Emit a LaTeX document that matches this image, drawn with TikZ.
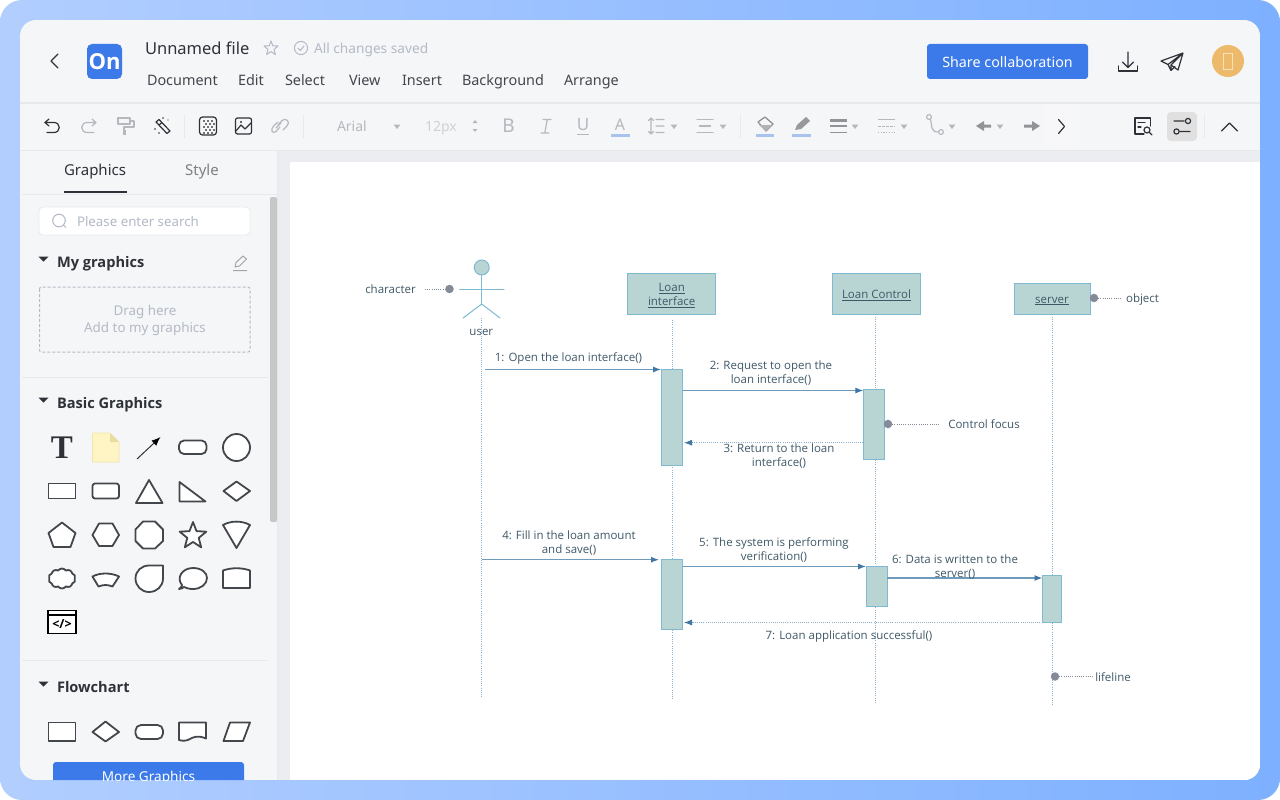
\documentclass[tikz,border=0pt]{standalone}
\usepackage{fontspec}
\setmainfont{Open Sans}
\newfontfamily\uifont{Noto Sans}
\newfontfamily\tfont{Liberation Serif}
\usetikzlibrary{arrows.meta,shapes.geometric,shapes.symbols}
\definecolor{bgL}{HTML}{B2CEFF}
\definecolor{bgR}{HTML}{7DB0FF}
\definecolor{cardc}{HTML}{F5F6F8}
\definecolor{canvasc}{HTML}{EBEDF0}
\definecolor{linec}{HTML}{E7E9EC}
\definecolor{blueb}{HTML}{3B7AE8}
\definecolor{inkc}{HTML}{2E3238}
\definecolor{menuc}{HTML}{43474D}
\definecolor{ghost}{HTML}{B3B9C6}
\definecolor{dis}{HTML}{B5B8BD}
\definecolor{barb}{HTML}{A9C3EE}
\definecolor{shapec}{HTML}{43474C}
\definecolor{umlfill}{HTML}{B9D5D3}
\definecolor{umlline}{HTML}{7FBAD2}
\definecolor{msgc}{HTML}{6E9ABB}
\definecolor{tipc}{HTML}{3F76A3}
\definecolor{lifec}{HTML}{8FB0C8}
\definecolor{labc}{HTML}{3F5868}
\definecolor{dotc}{HTML}{858A98}
\definecolor{avat}{HTML}{EDB96B}
\definecolor{avatl}{HTML}{F8E0B8}
\definecolor{notef}{HTML}{FFF5C4}
\definecolor{noted}{HTML}{F0E6AA}
\definecolor{notec}{HTML}{E8DCA0}
\tikzset{
  x=1pt,y=-1pt,
  ui/.style={inner sep=0,outer sep=0,yshift=-1.9pt,text height={#1*0.72pt},text depth={#1*0.2pt},font=\uifont\fontsize{#1}{#1}\selectfont},
  menu/.style={ui=14.4,text=menuc,anchor=west},
  head/.style={inner sep=0,outer sep=0,yshift=-1.9pt,text height=10.5pt,text depth=3pt,text=inkc,anchor=west,font=\bfseries\fontsize{14.6}{15}\selectfont},
  shp/.style={draw=shapec,line width=1.8,fill=white,line join=round},
  tool/.style={draw=inkc,line width=1.2,line cap=round,line join=round},
  toold/.style={draw=dis,line width=1.2,line cap=round,line join=round},
  objbox/.style={draw=umlline,fill=umlfill,line width=1,inner sep=0,outer sep=0,text=labc,align=center,font=\fontsize{11.5}{13.5}\selectfont},
  actbar/.style={draw=umlline,fill=umlfill,line width=1,inner sep=0,outer sep=0},
  life/.style={draw=lifec,line width=.8,dash pattern=on 1pt off 1.2pt},
  msg/.style={draw=msgc,line width=1.1,-{Latex[length=8pt,width=6pt,color=tipc]}},
  ret/.style={draw=lifec,line width=.9,dash pattern=on 1pt off 1.1pt,-{Latex[length=8pt,width=6pt,color=tipc]}},
  lab/.style={inner sep=0,outer sep=0,text=labc,align=center,font=\fontsize{11.5}{14}\selectfont},
  note/.style={draw=dotc,line width=.9,dash pattern=on 1pt off 1.2pt},
  dotn/.style={circle,fill=dotc,minimum size=8.5pt,inner sep=0,outer sep=0},
  act/.style={draw=umlline,line width=1,line cap=round},
}
\newcommand\ddtri[2]{\fill[dis] ({#1-3.5},{#2-2}) -- ({#1+3.5},{#2-2}) -- ({#1},{#2+2.5}) -- cycle;}
\newcommand\headtri[2]{\fill[inkc] ({#1-5},{#2-2.5}) -- ({#1+5},{#2-2.5}) -- ({#1},{#2+2.5}) -- cycle;}
\begin{document}
\begin{tikzpicture}
\useasboundingbox (0,0) rectangle (1280,800);
\fill[white] (0,0) rectangle (1280,800);
\shade[left color=bgL,right color=bgR,rounded corners=22pt] (0,0) rectangle (1280,800);
\begin{scope}
\clip[rounded corners=16pt] (20,20) rectangle (1260,780);
\fill[cardc] (20,20) rectangle (1260,780);
\fill[canvasc] (278,150) rectangle (1260,780);
\fill[white] (290,162) rectangle (1260,780);
\draw[linec,line width=1.2] (20,103) -- (1260,103);
\draw[linec,line width=1.2] (20,150.5) -- (1260,150.5);
\fill[cardc!85!white] (1044,104) rectangle (1079,149);
\draw[linec,line width=1] (277.5,150) -- (277.5,780);
\draw[linec,line width=1] (22,194.5) -- (277,194.5);
\draw[linec,line width=1] (22,377) -- (268,377);
\draw[linec,line width=1] (22,660.5) -- (268,660.5);
\fill[blueb,rounded corners=3pt] (53,762) rectangle (244,800);
\node[ui=13.6,text=white] (moreg) at (148.5,776) {More Graphics};
\end{scope}
% header
\draw[tool,line width=1.4] (58,54) -- (51,61) -- (58,68);
\fill[blueb,rounded corners=5pt] (87,44) rectangle (122,79);
\node[inner sep=0,text=white,font=\bfseries\fontsize{22}{22}\selectfont] (logo) at (104.5,62) {On};
\node[ui=16.5,text=inkc,anchor=west] (fname) at (145,48) {Unnamed file};
\draw[draw=ghost,line width=1,line join=round] (271,41) -- (272.8,45.8) -- (278,46) -- (274,49.4) -- (275.4,54.5) -- (271,51.6) -- (266.6,54.5) -- (268,49.4) -- (264,46) -- (269.2,45.8) -- cycle;
\draw[ghost,line width=1] (301,48) circle (6.6);
\draw[ghost,line width=1] (298,48) -- (300.3,50.5) -- (304.2,45.8);
\node[ui=13.7,text=ghost,anchor=west] (saved) at (314,48) {All changes saved};
\node[menu] (mDoc) at (147,80) {Document};
\node[menu] (mEdit) at (238,80) {Edit};
\node[menu] (mSel) at (285,80) {Select};
\node[menu] (mView) at (349,80) {View};
\node[menu] (mIns) at (402,80) {Insert};
\node[menu] (mBg) at (462,80) {Background};
\node[menu] (mArr) at (564,80) {Arrange};
\fill[blueb,rounded corners=3pt] (927,44) rectangle (1088,79);
\node[ui=14.3,text=white] (share) at (1007.5,62) {Share collaboration};
% download
\draw[tool] (1128,52) -- (1128,67) (1122.5,62) -- (1128,67.5) -- (1133.5,62);
\draw[tool] (1118.5,66) -- (1118.5,71) -- (1137.5,71) -- (1137.5,66);
% send
\draw[tool] (1183,53) -- (1161,61) -- (1168,64.5) -- (1171,70.5) -- (1175,66.5) (1168,64.5) -- (1183,53) -- (1178,70) -- (1171,65) -- (1171,70.5) (1171,65) -- (1183,53);
\fill[avat] (1228,61) circle (16);
\draw[avatl,line width=1] (1223.5,54) rectangle (1232.5,70);
% toolbar
\draw[tool] (49,119) -- (45,122.5) -- (49,126);
\draw[tool] (45,122.5) -- (54,122.5) .. controls (61,122.5) and (61,132.5) .. (54,132.5) -- (47,132.5);
\draw[toold] (92,119) -- (96,122.5) -- (92,126) (96,122.5) -- (87,122.5) .. controls (80,122.5) and (80,132.5) .. (87,132.5) -- (94,132.5);
\draw[toold] (118,118) rectangle (130,124) (130,121) -- (134,121) -- (134,127) -- (124,127) -- (124,130);
\fill[dis] (122.5,130) rectangle (125.5,135);
\draw[tool] (156,122) -- (159,119.5) -- (170,131) -- (167,133.5) -- cycle (159,125) -- (162,122.5);
\fill[inkc] (163,118) circle (.9) (155,129) circle (.9) (159,133) circle (.9) (168,120) circle (.7);
\draw[linec,line width=1] (184.5,115) -- (184.5,138);
\draw[tool,rounded corners=3pt] (199.5,117) rectangle (216.5,135);
\foreach \cx/\cy in {203/120,207/120,211/120,205/123,209/123,213/123,203/126,207/126,211/126,205/129,209/129,213/129,203/132,207/132,211/132}
  \fill[black!55] (\cx,\cy) rectangle ({\cx+2.2},{\cy+2.2});
\draw[tool,rounded corners=2pt] (235.5,118) rectangle (251.5,134);
\draw[tool] (236,131) -- (241,125) -- (245,129) -- (251,123);
\fill[inkc] (241,122) circle (1.2);
\draw[toold] (276,128) -- (281,123) (278,125) -- (282,120.5) .. controls (286,117) and (291,122) .. (287,126) -- (283,130) (280,127) -- (276,131.5) .. controls (272,135) and (270,129) .. (274,125.5) -- (278,122);
\draw[linec,line width=1] (303,115) -- (303,138);
\node[ui=14,text=dis,anchor=west] (fnt) at (337,126) {Arial};
\ddtri{397}{126.5}
\node[ui=14,text=linec!50!dis,anchor=west] (fsz) at (425,126) {12px};
\fill[dis] (472.5,123) -- (477.5,123) -- (475,120) -- cycle (472.5,129) -- (477.5,129) -- (475,132) -- cycle;
\node[ui=19,text=dis] (bBtn) at (508.5,126) {B};
\draw[dis,line width=1.2,line cap=round] (543,119.5) -- (551,119.5) (541,133) -- (549,133) (547.2,119.5) -- (544.8,133);
\node[ui=17,text=dis] (uBtn) at (583,124.5) {U};
\draw[dis,line width=1] (577,134) -- (589,134);
\node[ui=16,text=dis] (aBtn) at (620,124) {A};
\fill[barb] (611,133.5) rectangle (629.5,136.5);
\draw[toold] (651,118) -- (651,134) (648.5,120.5) -- (651,118) -- (653.5,120.5) (648.5,131.5) -- (651,134) -- (653.5,131.5) (656,119.5) -- (664,119.5) (656,126) -- (664,126) (656,132.5) -- (664,132.5);
\ddtri{674}{126.5}
\draw[toold] (697,119.5) -- (713,119.5) (699.5,126) -- (710.5,126) (697,132.5) -- (713,132.5);
\ddtri{723}{126.5}
\draw[linec,line width=1] (740,115) -- (740,138);
\draw[toold,draw=black!45] (758,122) -- (765,117) -- (773,124) -- (766,131) -- cycle;
\fill[black!30] (759,125) -- (772,125) -- (766,131) -- cycle;
\fill[barb] (755.5,133.5) rectangle (774,136.5);
\fill[black!40] (795,130) -- (797,125) -- (806,117) -- (810,121) -- (801,129) -- cycle;
\fill[barb] (792,133.5) rectangle (810.5,136.5);
\fill[dis!80!black] (829.5,118.5) rectangle (846.5,122);
\fill[dis!80!black] (829.5,125) rectangle (846.5,127.2);
\fill[dis!80!black] (829.5,132) rectangle (846.5,133.2);
\ddtri{855}{126.5}
\draw[dis,line width=1] (878,119.5) -- (895,119.5);
\draw[dis,line width=1,dash pattern=on 2.5pt off 1.5pt] (878,126) -- (895,126);
\draw[dis,line width=1,dash pattern=on 1.2pt off 1.5pt] (878,132.5) -- (895,132.5);
\ddtri{904}{126.5}
\draw[toold] (929,117) circle (2.4) (941,132) circle (2.4) (930.5,119) -- (932,128) .. controls (932.5,131) and (935,132) .. (938.5,132);
\ddtri{952}{126.5}
\fill[dis!80!black] (976,126) -- (984,121) -- (984,124.5) -- (991,124.5) -- (991,127.5) -- (984,127.5) -- (984,131) -- cycle;
\ddtri{1000}{126.5}
\fill[dis!80!black] (1040,126) -- (1032,121) -- (1032,124.5) -- (1024,124.5) -- (1024,127.5) -- (1032,127.5) -- (1032,131) -- cycle;
\draw[tool] (1058.5,119.5) -- (1064.5,126.5) -- (1058.5,133.5);
\draw[tool] (1150.5,126) -- (1150.5,118) -- (1135,118) -- (1135,134) -- (1144,134) (1138,122.5) -- (1145,122.5) (1138,127) -- (1141,127);
\draw[tool] (1147,130) circle (3) (1149.5,132.5) -- (1152,135);
\fill[black!12,rounded corners=4pt] (1167,112) rectangle (1197,141);
\draw[tool] (1174,121) -- (1184,121) (1188,121) circle (2.6) (1190,131.5) -- (1180,131.5) (1176.5,131.5) circle (2.6);
\draw[linec,line width=1] (1204.5,115) -- (1204.5,138);
\draw[tool] (1221.5,131) -- (1229.5,123) -- (1237.5,131);
% sidebar
\node[ui=15,text=inkc] (tabG) at (95,170) {Graphics};
\node[ui=15,text=black!50] (tabS) at (202,170) {Style};
\fill[inkc] (64,190.5) rectangle (126.5,192.5);
\fill[black!22,rounded corners=2pt] (270,197) rectangle (277,522);
\draw[linec,line width=.8,fill=white,rounded corners=4pt] (39,207) rectangle (250,235);
\draw[ghost,line width=1] (59,220.5) circle (6.3) (63.5,225) -- (66,227.5);
\node[ui=13.3,text=ghost,anchor=west] (srch) at (77,221) {Please enter search};
\headtri{43.5}{259}
\node[head] (hMy) at (57,262) {My graphics};
\draw[dis!90!black,line width=1,line join=round] (235,267) -- (236,262.5) -- (243,256) -- (246.5,259) -- (239.5,266) -- cycle (233,270.5) -- (247,270.5);
\draw[ghost,line width=1,dash pattern=on 3pt off 2pt,rounded corners=2pt] (39.5,287) rectangle (250,352);
\node[ui=13.4,text=ghost] (drag1) at (145,310) {Drag here};
\node[ui=13.4,text=ghost] (drag2) at (145,327) {Add to my graphics};
\headtri{43.5}{400}
\node[head] (hBasic) at (57,403) {Basic Graphics};
\node[inner sep=0,text=inkc,font=\tfont\bfseries\fontsize{33}{33}\selectfont] (tIcon) at (62,447.5) {T};
\draw[fill=notef,draw=noted,line width=.8] (92.5,433) -- (110,433) -- (119,442) -- (119,462) -- (92.5,462) -- cycle;
\fill[notec] (110,433) -- (119,442) -- (110,442) -- cycle;
\draw[draw=inkc,line width=1,-{Latex[length=9pt,width=7pt,color=black]}] (137,459) -- (160.5,437);
\draw[shp,rounded corners=5pt] (179,440.5) rectangle (206.5,454);
\draw[shp] (236.5,447.5) circle (13.5);
\draw[shp] (48.5,483.5) rectangle (75.5,498.5);
\draw[shp,rounded corners=2.5pt] (92.5,483.5) rectangle (119,498.5);
\draw[shp] (136,503) -- (149,480) -- (162.5,503) -- cycle;
\draw[shp] (179.5,482) -- (205.5,501.5) -- (179.5,501.5) -- cycle;
\draw[shp] (223.5,491) -- (236.5,481.5) -- (250,491) -- (236.5,501) -- cycle;
\draw[shp] (62,522.5) -- (75.5,533) -- (70.5,547) -- (53.5,547) -- (48.5,533) -- cycle;
\draw[shp] (92.5,535) -- (99,523.5) -- (112.5,523.5) -- (119,535) -- (112.5,546) -- (99,546) -- cycle;
\draw[shp] (143,521.5) -- (155,521.5) -- (163,529.5) -- (163,541) -- (155,548.5) -- (143,548.5) -- (135.5,541) -- (135.5,529.5) -- cycle;
\draw[shp] (193,522) -- (196.5,531.1) -- (206.3,531.7) -- (198.7,537.9) -- (201.2,547.3) -- (193,542) -- (184.8,547.3) -- (187.3,537.9) -- (179.7,531.7) -- (189.5,531.1) -- cycle;
\draw[shp] (223,525) .. controls (231,520.5) and (242,520.5) .. (250,525) -- (236.5,548) -- cycle;
\node[cloud,cloud puffs=10,cloud puff arc=110,aspect=1.35,shp,minimum width=27pt,minimum height=20pt,inner sep=0] (cloudI) at (62,578.5) {};
\draw[shp] (92.5,576.5) .. controls (100,572.5) and (111,572.5) .. (119,576.5) -- (112.5,586.5) .. controls (107,584.5) and (104,584.5) .. (98.5,586.5) -- cycle;
\draw[shp] (163,565.5) -- (163,578.5) .. controls (163,586) and (157,592) .. (149,592) .. controls (141.5,592) and (135.5,586) .. (135.5,578.5) .. controls (135.5,571) and (141.5,565.5) .. (149,565.5) -- cycle;
\draw[shp] (179,589) .. controls (181.5,587.5) and (182,586) .. (182,585) .. controls (176,578) and (182,568) .. (193,568) .. controls (202,568) and (207,573) .. (207,578) .. controls (207,584) and (201,589) .. (193,589) .. controls (189,589) and (186,588) .. (184,587) .. controls (183,588) and (181,589) .. (179,589) -- cycle;
\draw[shp] (223,570.5) .. controls (231,567.5) and (242,567.5) .. (250,570.5) -- (250,588) -- (223,588) -- cycle;
\draw[draw=black,line width=1.6,fill=white] (48,610.5) rectangle (76,633.5);
\draw[draw=black,line width=1.4] (48,615) -- (76,615);
\node[inner sep=0,font=\bfseries\fontsize{12.5}{12.5}\selectfont,text=black] (codeI) at (62,624) {</>};
\headtri{43.5}{684}
\node[head] (hFlow) at (57,687) {Flowchart};
\draw[shp] (48.5,722.5) rectangle (75.5,741);
\draw[shp] (92.5,732) -- (105.5,721.5) -- (119,732) -- (105.5,741.5) -- cycle;
\draw[shp,rounded corners=5.5pt] (135.5,725) rectangle (163,739);
\draw[shp] (179,722.5) -- (206,722.5) -- (206,738.5) .. controls (198,735) and (193,737) .. (189,739.5) .. controls (186,741) and (182,741) .. (179,740) -- cycle;
\draw[shp] (230,722.5) -- (250,722.5) -- (243,741) -- (223.5,741) -- cycle;
% sequence diagram: lifelines
\coordinate (t1) at (481.7,318);  \coordinate (b1) at (481.7,698);
\coordinate (t2) at (672.3,320);  \coordinate (b2) at (672.3,699);
\coordinate (t3) at (875.7,317);  \coordinate (b3) at (875.7,703);
\coordinate (t4) at (1052,317);   \coordinate (b4) at (1052,705);
\draw[life] (t1) -- (b1);
\draw[life] (t2) -- (b2);
\draw[life] (t3) -- (b3);
\draw[life] (t4) -- (b4);
% actor
\node[circle,draw=umlline,fill=umlfill,line width=1,minimum size=15pt,inner sep=0,outer sep=0] (ahead) at (481.7,267.5) {};
\coordinate (ahip) at (481.7,304);
\coordinate (aarmL) at (459.5,289);
\coordinate (aarmR) at (504,289);
\coordinate (alegL) at (463,318);
\coordinate (alegR) at (500,318);
\draw[act] (ahead) -- (ahip);
\draw[act] (aarmL) -- (aarmR);
\draw[act] (alegL) -- (ahip) -- (alegR);
\node[lab] (userl) at (481.3,332.2) {user};
% objects
\node[objbox,minimum width=88pt,minimum height=40.5pt] (loan) at (671.7,294.2) {\rule{0pt}{11pt}\underline{Loan}\\\underline{interface}};
\node[objbox,minimum width=88.4pt,minimum height=40.5pt,text height=10pt,text depth=1.6pt] (ctrl) at (876.5,294.2) {\underline{Loan Control}};
\node[objbox,minimum width=76pt,minimum height=31.5pt,text height=10pt,text depth=1.6pt] (serv) at (1052,298.8) {\underline{server}};
% activations
\node[actbar,minimum width=21.4pt,minimum height=96.5pt] (a1) at (672,417.7) {};
\node[actbar,minimum width=21.4pt,minimum height=70pt] (a2) at (874,424.5) {};
\node[actbar,minimum width=21.4pt,minimum height=69.8pt] (a3) at (672,594.6) {};
\node[actbar,minimum width=21pt,minimum height=40pt] (a4) at (876.5,586.5) {};
\node[actbar,minimum width=19.2pt,minimum height=47pt] (a5) at (1052.1,599) {};
% messages
\coordinate (m1s) at (484.5,369.5);
\coordinate (m1e) at (661,369.5);
\draw[msg] (m1s) -- (m1e);
\coordinate (m2s) at (a1.east |- 0,390.5);
\coordinate (m2e) at (a2.west |- 0,390.5);
\draw[msg] (m2s) -- (m2e);
\coordinate (m3s) at (a2.west |- 0,442.7);
\coordinate (m3e) at (684,442.7);
\draw[ret] (m3s) -- (m3e);
\coordinate (m4s) at (482,559.7);
\coordinate (m4e) at (659,559.7);
\draw[msg] (m4s) -- (m4e);
\coordinate (m5s) at (a3.east |- 0,566.5);
\coordinate (m5e) at (a4.west |- 0,566.5);
\draw[msg] (m5s) -- (m5e);
\coordinate (m6s) at (a4.east |- 0,578);
\coordinate (m6e) at (a5.west |- 0,578);
\draw[msg,line width=1.3] (m6s) -- (m6e);
\coordinate (m7s) at (a5.south west);
\coordinate (m7e) at (684,622.5);
\draw[ret] (m7s) -- (m7e);
\node[lab] (l1) at (568.5,358) {1: Open the loan interface()};
\node[lab] (l2) at (771,373) {2: Request to open the\\loan interface()};
\node[lab] (l3) at (779,455.7) {3: Return to the loan\\interface()};
\node[lab] (l4) at (569,543.5) {4: Fill in the loan amount\\and save()};
\node[lab] (l5) at (774,550.5) {5: The system is performing\\verification()};
\node[lab] (l6) at (955,567.5) {6: Data is written to the\\server()};
\node[lab] (l7) at (849,636.5) {7: Loan application successful()};
% annotations
\node[lab] (ncha) at (390.5,289) {character};
\node[dotn] (dcha) at (449.5,289) {};
\coordinate (ncha2) at (425,289);
\draw[note] (ncha2) -- (dcha);
\node[lab] (nobj) at (1142.5,300) {object};
\node[dotn] (dobj) at (1094,298) {};
\coordinate (nobj2) at (1122,298);
\draw[note] (dobj) -- (nobj2);
\node[lab] (nfoc) at (984,424) {Control focus};
\node[dotn] (dfoc) at (888,424) {};
\coordinate (nfoc2) at (940,424);
\draw[note] (dfoc) -- (nfoc2);
\node[lab] (nlif) at (1113,677) {lifeline};
\node[dotn] (dlif) at (1055,676.5) {};
\coordinate (nlif2) at (1093,676.5);
\draw[note] (dlif) -- (nlif2);
\end{tikzpicture}
\end{document}
